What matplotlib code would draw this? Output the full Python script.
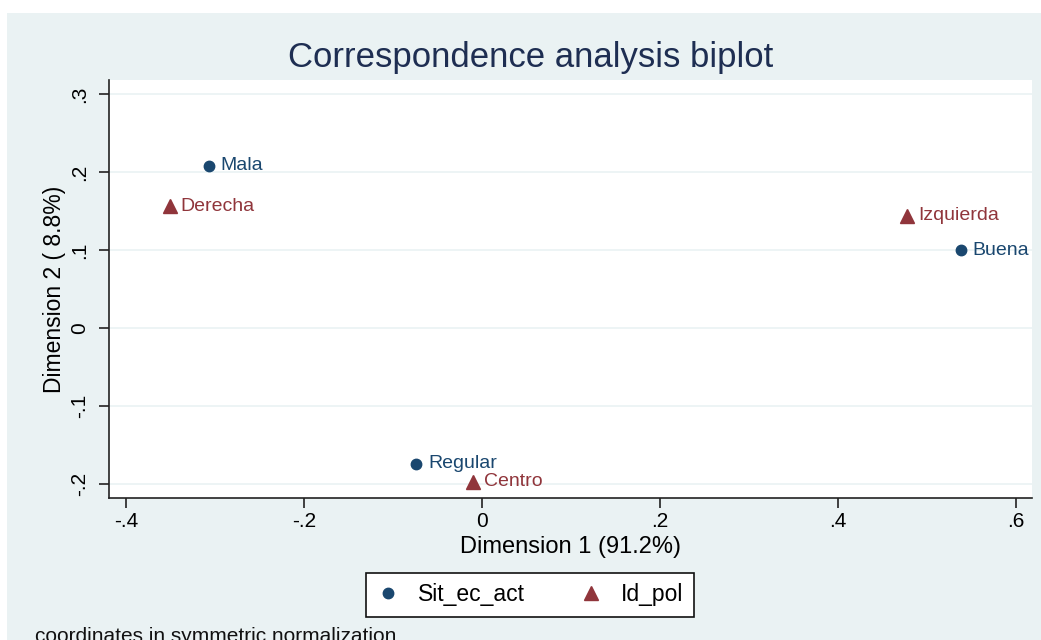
import matplotlib
matplotlib.use("Agg")
import matplotlib.pyplot as plt
from matplotlib.patches import Rectangle
from matplotlib.lines import Line2D

# row points (Sit_ec_act) and column points (Id_pol)
row_labels = ["Mala", "Regular", "Buena"]
row_x = [-0.307, -0.074, 0.538]
row_y = [0.208, -0.174, 0.100]

col_labels = ["Derecha", "Centro", "Izquierda"]
col_x = [-0.351, -0.010, 0.478]
col_y = [0.156, -0.197, 0.144]

xticks = [-0.4, -0.2, 0, 0.2, 0.4, 0.6]
xtick_labels = ["-.4", "-.2", "0", ".2", ".4", ".6"]
yticks = [-0.2, -0.1, 0, 0.1, 0.2, 0.3]
ytick_labels = ["-.2", "-.1", "0", ".1", ".2", ".3"]

plt.rcParams["font.family"] = ["Liberation Sans", "DejaVu Sans"]

navy = "#1a476f"
maroon = "#90353b"
bg = "#eaf2f3"
W, H = 1041, 640

fig = plt.figure(figsize=(W / 100, H / 100), dpi=100)
fig.patch.set_facecolor("white")
# light blue-grey graph region behind everything
fig.patches.append(Rectangle((7 / W, 0), 1 - 7 / W, 1 - 13 / H,
                             transform=fig.transFigure, facecolor=bg,
                             edgecolor="none", zorder=-10))

ax = fig.add_axes([109 / W, 1 - 498 / H, (1032 - 109) / W, (498 - 80) / H])
ax.set_facecolor("white")
ax.set_xlim(-0.419, 0.618)
ax.set_ylim(-0.218, 0.318)

ax.grid(axis="y", color=bg, linewidth=1.2)
ax.set_axisbelow(True)
for s in ["top", "right"]:
    ax.spines[s].set_visible(False)
for s in ["left", "bottom"]:
    ax.spines[s].set_color("#222222")
    ax.spines[s].set_linewidth(1.2)

ax.set_xticks(xticks)
ax.set_xticklabels(xtick_labels, fontsize=15)
ax.set_yticks(yticks)
ax.set_yticklabels(ytick_labels, fontsize=15, rotation=90, va="center")
ax.tick_params(length=7, width=1.2, color="#222222")
ax.tick_params(axis="x", pad=3)
ax.tick_params(axis="y", pad=7)

ax.plot(row_x, row_y, "o", color=navy, markersize=7.5, clip_on=False)
ax.plot(col_x, col_y, "^", color=maroon, markersize=9.5, clip_on=False)
for lx, ly, lab in zip(row_x, row_y, row_labels):
    ax.annotate(lab, (lx, ly), xytext=(8.5, 0), textcoords="offset points",
                va="center", ha="left", color=navy, fontsize=14,
                annotation_clip=False)
for lx, ly, lab in zip(col_x, col_y, col_labels):
    ax.annotate(lab, (lx, ly), xytext=(8, 0), textcoords="offset points",
                va="center", ha="left", color=maroon, fontsize=14,
                annotation_clip=False)

ax.set_xlabel("Dimension 1 (91.2%)", fontsize=17, labelpad=4)
ax.set_ylabel("Dimension 2 ( 8.8%)", fontsize=16.5, labelpad=3)

fig.text(531 / W, 1 - 58 / H, "Correspondence analysis biplot",
         ha="center", va="center", fontsize=25, color="#1e2e52")

handles = [Line2D([], [], marker="o", ls="none", color=navy, markersize=7.5),
           Line2D([], [], marker="^", ls="none", color=maroon, markersize=9.5)]
leg = fig.legend(handles, ["Sit_ec_act", "Id_pol"], loc="center",
                 bbox_to_anchor=(530 / W, 1 - 595 / H), ncol=2, fontsize=16.5,
                 frameon=True, fancybox=False, edgecolor="#111111",
                 handlelength=1.0, handletextpad=0.8, columnspacing=2.4,
                 borderpad=0.45, borderaxespad=0)
leg.get_frame().set_linewidth(1.2)
leg.get_frame().set_facecolor("white")
leg.get_frame().set_alpha(1)

fig.text(35 / W, 1 - 627 / H, "coordinates in symmetric normalization",
         ha="left", va="top", fontsize=15, color="#111111")

fig.savefig("out.png", dpi=100)
